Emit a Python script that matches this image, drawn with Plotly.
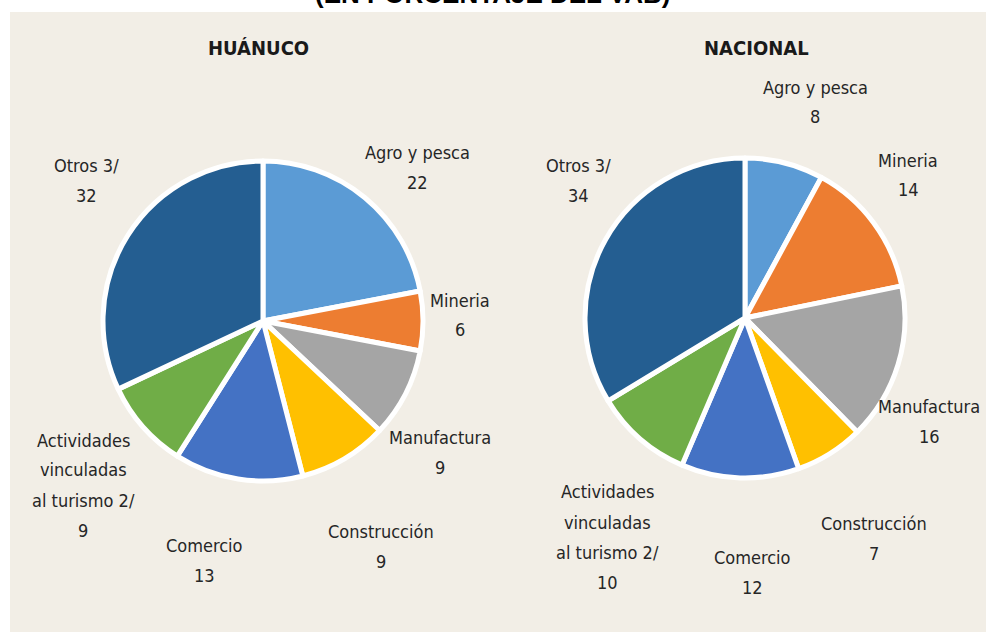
import plotly.graph_objects as go

# ---------------- data ----------------
sectors = ["Agro y pesca", "Mineria", "Manufactura", "Construcción",
           "Comercio", "Actividades vinculadas al turismo 2/", "Otros 3/"]
label_lines = [["Agro y pesca"], ["Mineria"], ["Manufactura"], ["Construcción"],
               ["Comercio"], ["Actividades", "vinculadas", "al turismo 2/"], ["Otros 3/"]]
huanuco_values = [22, 6, 9, 9, 13, 9, 32]
nacional_values = [8, 14, 16, 7, 12, 10, 34]
panel_titles = ["HUÁNUCO", "NACIONAL"]
main_title = "(EN PORCENTAJE DEL VAB)"

colors = ["#5B9BD5", "#ED7D31", "#A5A5A5", "#FFC000", "#4472C4", "#70AD47", "#245E91"]

# ---------------- layout helpers ----------------
W, H = 986, 637
def px(x):
    return x / W
def py(y):
    return 1 - y / H

FONT = "Liberation Sans Narrow, DejaVu Sans Condensed, Arial Narrow, sans-serif"

# pie geometry (pixels)
D = 320
centers = [(263, 321), (745, 318)]

# label positions (pixel centre of first line) per panel
label_pos = [
    [(417, 152), (460, 300), (440, 437), (381, 531), (204, 545), (83, 440), (86, 165)],
    [(815, 87), (908, 160), (929, 406), (874, 523), (752, 557), (607, 492), (578, 165)],
]
title_pos = [(258, 48), (756, 48)]

fig = go.Figure()
for (cx, cy), vals in zip(centers, [huanuco_values, nacional_values]):
    fig.add_trace(go.Pie(
        labels=sectors, values=vals, sort=False, direction="clockwise", rotation=0,
        marker=dict(colors=colors, line=dict(color="white", width=5)),
        textinfo="none", hoverinfo="label+value", showlegend=False,
        domain=dict(x=[px(cx - D / 2), px(cx + D / 2)],
                    y=[py(cy + D / 2), py(cy - D / 2)]),
    ))

annotations = []
LINE = 30
for p, vals in enumerate([huanuco_values, nacional_values]):
    for i, v in enumerate(vals):
        lines = label_lines[i] + [str(v)]
        x0, y0 = label_pos[p][i]
        for k, t in enumerate(lines):
            annotations.append(dict(
                x=px(x0), y=py(y0 + k * LINE), xref="paper", yref="paper",
                text=t, showarrow=False, xanchor="center", yanchor="middle",
                font=dict(family=FONT, size=18, color="#262626")))
    tx, ty = title_pos[p]
    annotations.append(dict(
        x=px(tx), y=py(ty), xref="paper", yref="paper", text="<b>" + panel_titles[p] + "</b>",
        showarrow=False, xanchor="center", yanchor="middle",
        font=dict(family=FONT, size=20, color="#1a1a1a")))

annotations.append(dict(
    x=px(492), y=py(11), xref="paper", yref="paper", text="<b>" + main_title + "</b>",
    showarrow=False, xanchor="center", yanchor="bottom",
    font=dict(family="Liberation Sans, Arial, sans-serif", size=26, color="#000000")))

fig.update_layout(
    width=W, height=H, autosize=False,
    margin=dict(l=0, r=0, t=0, b=0),
    paper_bgcolor="white", plot_bgcolor="white",
    annotations=annotations,
    shapes=[dict(type="rect", xref="paper", yref="paper",
                 x0=px(10), x1=1.0, y0=py(632), y1=py(12),
                 fillcolor="#F2EEE6", line=dict(width=0), layer="below")],
)

fig.write_html("out.html", config={"displayModeBar": False},
               post_script="document.body.style.margin='0';document.body.style.overflow='hidden';")
